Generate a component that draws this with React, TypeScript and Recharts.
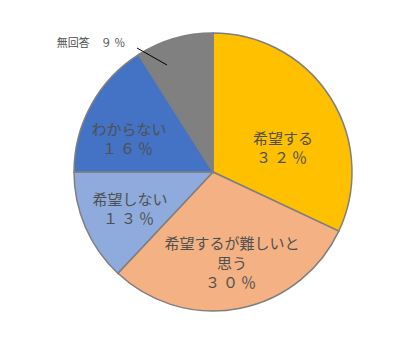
import React from "react";
import { PieChart, Pie, Cell } from "recharts";

const names = ["希望する", "希望するが難しいと思う", "希望しない", "わからない", "無回答"];
const values = [32, 30, 13, 16, 9];
const colors = ["#FFC000", "#F4B183", "#8FAADC", "#4472C4", "#808080"];
// label text lines for each slice
const labelLines = [
  ["希望する", "３２％"],
  ["希望するが難しいと", "思う", "３０％"],
  ["希望しない", "１３％"],
  ["わからない", "１６％"],
  ["無回答　９ ％"],
];
// label block centre, offset from pie centre
const labelOffsets = [
  [70, -25],
  [19, 90],
  [-83, 36],
  [-84, -34],
  [-122, -130],
];

const data = names.map((name, i) => ({ name, value: values[i] }));

const FONT = "'Noto Sans CJK JP', sans-serif";

const renderLabel = (props: any) => {
  const { cx, cy, index } = props;
  const lines = labelLines[index];
  const [ox, oy] = labelOffsets[index];
  const outside = index === 4;
  const fs = outside ? 11 : 15;
  const lh = outside ? 13 : 19.5;
  const x = cx + ox;
  const y0 = cy + oy - ((lines.length - 1) * lh) / 2;
  return (
    <g key={"lbl" + index}>
      {outside && (
        <line x1={cx - 76} y1={cy - 124} x2={cx - 46} y2={cy - 107} stroke="#000" strokeWidth={1} />
      )}
      {lines.map((t, j) => (
        <text
          key={j}
          x={x}
          y={y0 + j * lh}
          textAnchor="middle"
          dominantBaseline="central"
          fontSize={fs}
          fontFamily={FONT}
          fill="#505050"
          letterSpacing={/[０-９]/.test(t) && !outside ? 3 : 0}
        >
          {t}
        </text>
      ))}
    </g>
  );
};

export default function App() {
  return (
    <div style={{ width: 400, height: 351, margin: -8, background: "#fff" }}>
      <PieChart width={400} height={351}>
        <Pie
          data={data}
          dataKey="value"
          nameKey="name"
          cx={208}
          cy={167}
          outerRadius={139}
          startAngle={90}
          endAngle={-270}
          stroke="#7F7F7F"
          strokeWidth={1.5}
          label={renderLabel}
          labelLine={false}
          isAnimationActive={false}
        >
          {data.map((d, i) => (
            <Cell key={d.name} fill={colors[i]} />
          ))}
        </Pie>
      </PieChart>
    </div>
  );
}
